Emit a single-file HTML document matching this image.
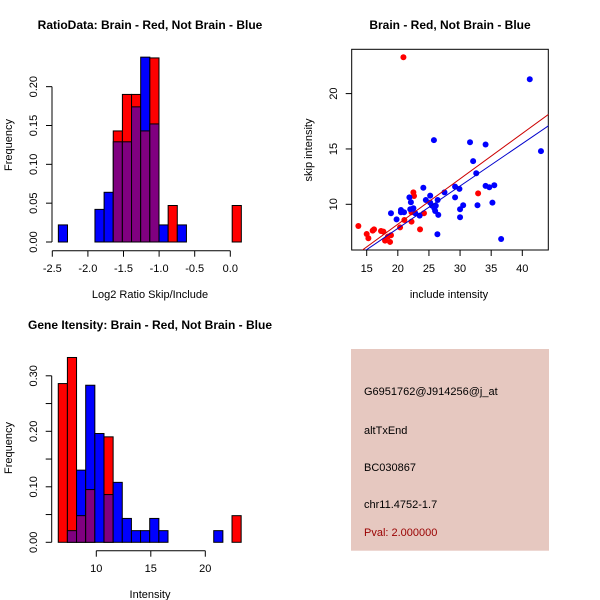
<!DOCTYPE html>
<html><head><meta charset="utf-8"><style>
body{margin:0;background:#fff;}
svg{display:block;font-family:"Liberation Sans",sans-serif;}
</style></head><body>
<svg id="c" width="600" height="600"></svg>
<script>
// ---- data ----
const ratioBinStart = -2.415, ratioBinWidth = 0.1285;
const ratioBlue = [0.022,0,0,0,0.042,0.064,0.129,0.129,0.174,0.238,0.152,0.022,0,0.022,0,0,0,0,0,0];
const ratioRed  = [0,0,0,0,0,0,0.143,0.19,0.19,0.143,0.237,0,0.047,0,0,0,0,0,0,0.047];
const ratioXTicks = [-2.5,-2.0,-1.5,-1.0,-0.5,0.0];
const ratioXLabels = ["-2.5","-2.0","-1.5","-1.0","-0.5","0.0"];
const ratioYTicks = [0,0.05,0.10,0.15,0.20];
const ratioYLabels = ["0.00","0.05","0.10","0.15","0.20"];

const intBinStart = 6.51, intBinWidth = 0.839;
const intBlue = [0,0.021,0.13,0.283,0.196,0.086,0.108,0.043,0.021,0.021,0.043,0.021,0,0,0,0,0,0.021,0,0];
const intRed  = [0.286,0.333,0.048,0.095,0,0.19,0,0,0,0,0,0,0,0,0,0,0,0,0,0.048];
const intXTicks = [10,15,20];
const intYTicks = [0,0.05,0.10,0.15,0.20,0.25,0.30];
const intYLabels = ["0.00","","0.10","","0.20","","0.30"];

const redX = [13.66,15,15.27,15.96,16.18,17.3,17.68,17.95,18.4,18.75,18.9,20.36,20.9,22.2,22.2,22.5,22.6,23.57,24.2,32.9,21.05];
const redY = [8.04,7.32,6.93,7.62,7.74,7.59,7.53,6.72,7.08,6.6,7.2,7.92,23.28,9.28,8.43,11.08,10.75,7.74,9.19,10.99,8.58];
const blueX = [18.9,19.8,20.5,20.5,21,21.86,22.1,22,22.5,22.8,23.5,24.1,24.5,25.2,25.2,25.5,25.8,25.87,26.1,26,26.4,26.5,26.36,27.5,29.2,29.2,29.9,30,30,30.5,31.6,32.1,32.6,32.8,34.1,34.1,34.7,35.2,35.5,36.6,41.2,43];
const blueY = [9.19,8.64,9.28,9.49,9.28,10.63,10.18,9.55,9.64,9.19,8.98,11.5,10.39,10.78,10.15,9.88,15.8,9.64,9.88,9.4,10.39,9.04,7.29,11.08,11.6,10.63,11.39,9.55,8.83,9.91,15.6,13.9,12.8,9.91,15.4,11.66,11.54,10.15,11.72,6.87,21.3,14.8];
const redFit = [0.0, 0.41];   // intercept, slope
const blueFit = [0.16, 0.383];
const scXTicks = [15,20,25,30,35,40];
const scYTicks = [10,15,20];

const infoLines = ["G6951762@J914256@j_at","altTxEnd","BC030867","chr11.4752-1.7"];
const pvalText = "Pval: 2.000000";

// ---- helpers ----
const NS="http://www.w3.org/2000/svg";
const svg=document.getElementById('c');
function el(tag,attrs,parent){const e=document.createElementNS(NS,tag);for(const k in attrs)e.setAttribute(k,attrs[k]);(parent||svg).appendChild(e);return e;}
function txt(s,x,y,attrs,parent){const t=el('text',Object.assign({x:x,y:y,'font-size':11,'text-anchor':'middle',fill:'#000'},attrs),parent);t.textContent=s;return t;}

function histogram(name,binStart,binW,blue,red,sx,sy,y0){
  const g=el('g',{});
  
  
  for(let i=0;i<blue.length;i++){
    const a=binStart+i*binW,b=a+binW;
    const x1=sx(a),x2=sx(b);
    const mx=Math.max(blue[i],red[i]),mn=Math.min(blue[i],red[i]);
    if(mx<=0)continue;
    const big=blue[i]>=red[i]?'#0000ff':'#ff0000';
    const r=el('rect',{x:x1,y:sy(mx),width:x2-x1,height:y0-sy(mx),fill:big,stroke:'#000','stroke-width':1},g);
    
    
    if(mn>0){
      const p=el('rect',{x:x1,y:sy(mn),width:x2-x1,height:y0-sy(mn),fill:'#800080',stroke:'#000','stroke-width':1},g);
      
      
    }
  }
}
function yAxis(name,x,ticks,labels,sy,lx){
  const g=el('g',{});
  
  
  el('line',{x1:x,x2:x,y1:sy(ticks[0]),y2:sy(ticks[ticks.length-1]),stroke:'#000'},g);
  ticks.forEach((t,i)=>{const y=sy(t);el('line',{x1:x-6,x2:x,y1:y,y2:y,stroke:'#000'},g);
    if(labels[i]!=='')txt(labels[i],lx,y+4,{transform:`rotate(-90 ${lx} ${y})`},g);});
}
function xAxis(name,y,ticks,labels,sx,ly){
  const g=el('g',{});
  
  
  el('line',{x1:sx(ticks[0]),x2:sx(ticks[ticks.length-1]),y1:y,y2:y,stroke:'#000'},g);
  ticks.forEach((t,i)=>{const x=sx(t);el('line',{x1:x,x2:x,y1:y,y2:y+6,stroke:'#000'},g);txt(labels[i],x,ly,{},g);});
}

// ---- panel 1: ratio histogram ----
{
  const sx=v=>230.3+v*71.2, sy=v=>242-v*776.7;
  const t=txt("RatioData: Brain - Red, Not Brain - Blue",150,29,{'font-weight':'bold','font-size':12});
  
  histogram('ratio',ratioBinStart,ratioBinWidth,ratioBlue,ratioRed,sx,sy,242);
  yAxis('ratio-y-axis',52,ratioYTicks,ratioYLabels,sy,33);
  xAxis('ratio-x-axis',250.7,ratioXTicks,ratioXLabels,sx,272);
  const xl=txt("Log2 Ratio Skip/Include",150,298,{'font-size':11});
  
  const yl=txt("Frequency",12,145,{transform:'rotate(-90 12 145)'});
  
}
// ---- panel 2: scatter ----
{
  const sx=v=>366.7+(v-15)*6.224, sy=v=>204.3-(v-10)*11.07;
  const t=txt("Brain - Red, Not Brain - Blue",450,29,{'font-weight':'bold','font-size':12});
  
  const box=el('rect',{x:351.7,y:49.3,width:196.6,height:200.7,fill:'none',stroke:'#000'});
  
  const clip=el('clipPath',{id:'sc'});el('rect',{x:351.7,y:49.3,width:196.6,height:200.7},clip);
  const g=el('g',{'clip-path':'url(#sc)'});
  
  redX.forEach((x,i)=>{const c=el('circle',{cx:sx(x),cy:sy(redY[i]),r:3,fill:'#ff0000'},g);
    });
  blueX.forEach((x,i)=>{const c=el('circle',{cx:sx(x),cy:sy(blueY[i]),r:3,fill:'#0000ff'},g);
    });
  const fx=[10,50];
  const rl=el('line',{x1:sx(fx[0]),y1:sy(redFit[0]+redFit[1]*fx[0]),x2:sx(fx[1]),y2:sy(redFit[0]+redFit[1]*fx[1]),stroke:'#cc0000'},g);
  
  const bl=el('line',{x1:sx(fx[0]),y1:sy(blueFit[0]+blueFit[1]*fx[0]),x2:sx(fx[1]),y2:sy(blueFit[0]+blueFit[1]*fx[1]),stroke:'#0000cc'},g);
  
  const xg=el('g',{});
  scXTicks.forEach(t=>{el('line',{x1:sx(t),x2:sx(t),y1:250,y2:256,stroke:'#000'},xg);txt(String(t),sx(t),272,{},xg);});
  const yg=el('g',{});
  scYTicks.forEach(t=>{const y=sy(t);el('line',{x1:345.7,x2:351.7,y1:y,y2:y,stroke:'#000'},yg);txt(String(t),333,y+4,{transform:`rotate(-90 333 ${y})`},yg);});
  const xl=txt("include intensity",449,298);
  
  const yl=txt("skip intensity",312,150,{transform:'rotate(-90 312 150)'});
  
}
// ---- panel 3: intensity histogram ----
{
  const sx=v=>96.3+(v-10)*10.9, sy=v=>542.3-v*555;
  const t=txt("Gene Itensity: Brain - Red, Not Brain - Blue",150,329,{'font-weight':'bold','font-size':12});
  
  histogram('intensity',intBinStart,intBinWidth,intBlue,intRed,sx,sy,542.3);
  yAxis('intensity-y-axis',51.7,intYTicks,intYLabels,sy,33);
  xAxis('intensity-x-axis',550.7,intXTicks,intXTicks.map(String),sx,572);
  const xl=txt("Intensity",150,598);
  
  const yl=txt("Frequency",12,448,{transform:'rotate(-90 12 448)'});
  
}
// ---- panel 4: info box ----
{
  const g=el('g',{});
  el('rect',{x:351,y:349,width:198,height:201.7,fill:'#e6c8c0'},g);
  const ys=[395,434,471,508];
  infoLines.forEach((s,i)=>{const t=txt(s,364,ys[i],{'text-anchor':'start'},g);
    });
  const p=txt(pvalText,364,536,{'text-anchor':'start',fill:'#990000'},g);
  
}
</script>
</body></html>
